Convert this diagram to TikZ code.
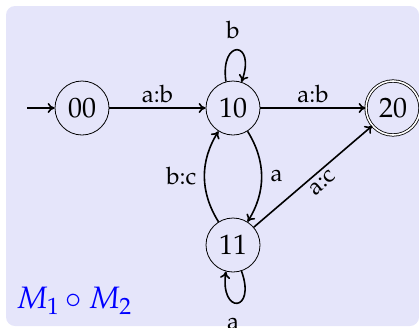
\documentclass[tikz,border=0pt]{standalone}
\usepackage{mathpazo}
\usepackage[no-math]{fontspec}
\setmainfont{TeX Gyre Pagella}
\usetikzlibrary{arrows.meta}
\definecolor{bgc}{RGB}{229,229,250}
\begin{document}
\begin{tikzpicture}[x=1pt,y=1pt,
  st/.style={circle,draw,line width=0.8pt,minimum size=54pt,inner sep=0pt,font=\fontsize{28}{31}\selectfont},
  acc/.style={st,double,double distance=1.6pt},
  edge/.style={-{To[length=7pt,width=10pt]},line width=1.6pt},
  lbl/.style={font=\fontsize{24}{27}\selectfont}]
\useasboundingbox (0,0) rectangle (419,-327);
\fill[bgc,rounded corners=9pt] (6,-6) rectangle (419,-326);
\node[st] (q00) at (82,-108) {00};
\node[st] (q10) at (233,-108) {10};
\node[acc] (q20) at (393,-108) {20};
\node[st] (q11) at (233,-245) {11};
\coordinate (init) at (27,-108);
\draw[edge] (init) -- (q00);
\draw[edge] (q00) -- node[lbl,above=1pt] {a:b} (q10);
\draw[edge] (q10) -- node[lbl,above=1pt] {a:b} (q20);
\draw[edge] (q10.105) .. controls +(98:44) and +(70:44) .. (q10.72);
\node[lbl] (lb) at (233,-30) {b};
\draw[edge] (q11.-72) .. controls +(-70:44) and +(-98:44) .. (q11.-105);
\node[lbl] (la) at (233,-324) {a};
\draw[edge] (q10) to[bend left=32] node[lbl,right=5pt] {a} (q11);
\draw[edge] (q11) to[bend left=32] node[lbl,left=4pt] {b:c} (q10);
\draw[edge] (q11) -- node[lbl,sloped,below=1pt,pos=0.52] {a:c} (q20);
\node[text=blue,font=\fontsize{31}{34}\selectfont] (title) at (74,-301) {$M_1\circ M_2$};
\end{tikzpicture}
\end{document}
